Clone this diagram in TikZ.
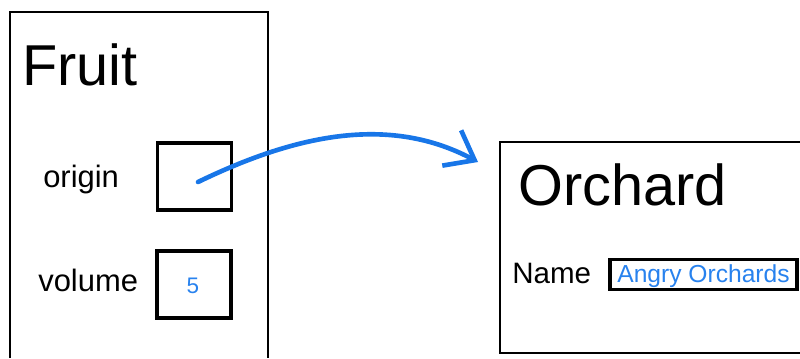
\documentclass[tikz,border=0pt]{standalone}
\usepackage{fontspec}
\setmainfont{Liberation Sans}
\usetikzlibrary{arrows.meta}
\definecolor{linkblue}{RGB}{24,118,232}
\definecolor{valblue}{RGB}{40,130,238}

\begin{document}
\begin{tikzpicture}[x=0.025cm,y=-0.025cm,
    title/.style={anchor=base west,inner sep=0pt,font=\fontsize{41}{49}\selectfont},
    field/.style={anchor=base west,inner sep=0pt,font=\fontsize{22}{26}\selectfont},
    slot/.style={draw,line width=2.4pt,minimum width=1.85cm,minimum height=1.68cm,inner sep=0pt},
    link/.style={draw=linkblue,line width=3.3pt,line cap=round,-{Straight Barb[length=6.5mm,width=10mm]}}]
        \useasboundingbox (0,0) rectangle (800,358);
        % Fruit
        \draw[line width=1.5pt] (10,358) -- (10,12) -- (268,12) -- (268,358);
        \node[title] (fruit) at (22,85) {Fruit};
        \node[field] (originlbl) at (43,187) {origin};
        \node[slot] (originslot) at (194.5,176.5) {};
        \node[field] (volumelbl) at (38,291) {volume};
        \node[slot] (volumeslot) at (194,284.5) {};
        \node[text=valblue,font=\fontsize{16}{18}\selectfont] (volumeval) at (193,286) {5};
        % Orchard
        \draw[line width=1.5pt] (800,142) -- (500,142) -- (500,353) -- (800,353);
        \node[title] (orchard) at (518,205) {Orchard};
        \node[field,font=\fontsize{21}{25}\selectfont] (namelbl) at (512,283) {Name};
        \node[draw,line width=2.2pt,minimum width=4.675cm,minimum height=0.76cm,inner sep=0pt] (nameslot) at (703.5,274.5) {};
        \node[anchor=base,inner sep=0pt,text=valblue,font=\fontsize{17.5}{20}\selectfont] (nameval) at (703.5,282) {Angry Orchards};
        % reference
        \coordinate (ptr) at (198,182);
        \coordinate (target) at (478,162);
        \draw[link] (ptr) .. controls (297,134) and (390,115) .. (target);
\end{tikzpicture}
\end{document}
